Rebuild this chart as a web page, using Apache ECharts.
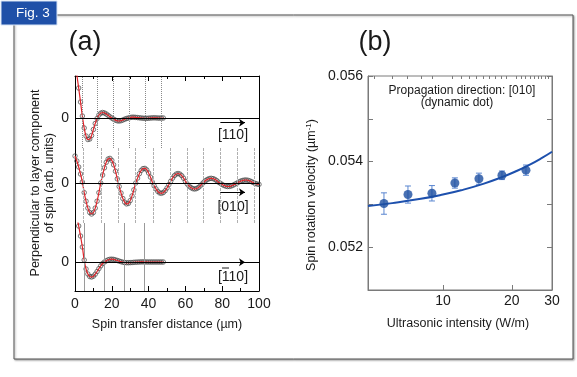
<!DOCTYPE html>
<html>
<head>
<meta charset="utf-8">
<script src="https://cdn.jsdelivr.net/npm/echarts@6/dist/echarts.min.js"></script>
<style>
  html, body { margin: 0; padding: 0; background: #fff; }
  #main { width: 577px; height: 377px; }
</style>
</head>
<body>
<div id="main"></div>
<script>
// (a) spin component vs distance (arb. units)
const distShort = [0,1,2,3,4,5,6,7,8,9,10,11,12,13,14,15,16,17,18,19,20,21,22,23,24,25,26,27,28,29,30,31,32,33,34,35,36,37,38,39,40,41,42,43,44,45,46,47,48]
const distLong = [0,1,2,3,4,5,6,7,8,9,10,11,12,13,14,15,16,17,18,19,20,21,22,23,24,25,26,27,28,29,30,31,32,33,34,35,36,37,38,39,40,41,42,43,44,45,46,47,48,49,50,51,52,53,54,55,56,57,58,59,60,61,62,63,64,65,66,67,68,69,70,71,72,73,74,75,76,77,78,79,80,81,82,83,84,85,86,87,88,89,90,91,92,93,94,95,96,97,98,99,100]

const spin110 = [5.6, 4.3, 3.0, 1.6, 0.2, -1.0, -1.8, -2.15, -2.1, -1.75,
  -1.15, -0.55, -0.05, 0.3, 0.48, 0.55, 0.5, 0.4, 0.27, 0.12,
  0.0, -0.12, -0.22, -0.28, -0.3, -0.27, -0.2, -0.12, -0.05, 0.0,
  0.05, 0.08, 0.08, 0.06, 0.04, 0.02, 0.0, -0.02, -0.03, -0.03,
  -0.02, 0.0, 0.01, 0.02, 0.01, 0.0, -0.01, 0.0, 0.0]

const spin010 = [2.7, 2.2, 1.6, 0.9, 0.1,
  -0.96, -1.82, -2.51, -2.95, -3.1, -2.95, -2.51, -1.82, -0.96, 0.0,
  0.8, 1.52, 2.07, 2.4, 2.46, 2.26, 1.82, 1.18, 0.41,
  -0.35, -1.0, -1.55, -1.92, -2.09, -2.04, -1.76, -1.29, -0.68, 0.0,
  0.49, 0.93, 1.26, 1.44, 1.46, 1.31, 1.0, 0.59, 0.1,
  -0.28, -0.59, -0.84, -0.99, -1.03, -0.95, -0.77, -0.5, -0.17,
  0.17, 0.48, 0.73, 0.89, 0.95, 0.89, 0.73, 0.48, 0.17,
  -0.1, -0.3, -0.46, -0.56, -0.6, -0.56, -0.46, -0.3, -0.1,
  0.08, 0.24, 0.36, 0.44, 0.47, 0.44, 0.36, 0.24, 0.08,
  -0.03, -0.15, -0.25, -0.32, -0.35, -0.34, -0.29, -0.21, -0.11, -0.02,
  0.1, 0.18, 0.25, 0.29, 0.3, 0.27, 0.21, 0.13, 0.04,
  -0.05, -0.1, -0.14]

const spin1b10 = [6.0, 4.6, 3.6, 2.6, 1.5, 0.2, -0.7, -1.2, -1.45, -1.5,
  -1.42, -1.22, -0.95, -0.66, -0.38, -0.15, 0.0, 0.12, 0.22, 0.27,
  0.28, 0.26, 0.21, 0.15, 0.09, 0.03, -0.02, -0.05, -0.07, -0.07,
  -0.06, -0.05, -0.03, -0.02, -0.01, 0.0, 0.01, 0.01, 0.01, 0.0,
  0.0, 0.0, 0.0, 0.0, 0.0, 0.0, 0.0, 0.0, 0.0]

// zero crossings marked by the vertical guide lines
const guides110 = [3.7, 12, 20.8, 29.6, 38.3, 47]
const guides010 = [4.3, 14, 23.5, 33, 42.3, 51.6, 60.8, 69.8, 79, 88.4, 97.6]
const guides1b10 = [5.1, 16, 26.8, 37.7]
const distTicks = [0, 20, 40, 60, 80, 100]

// (b) spin rotation velocity vs ultrasonic intensity
const intensity = [5.52, 7.03, 8.95, 11.28, 14.37, 18.12, 23.08]
const velocity = [0.05302, 0.05323, 0.05326, 0.0535, 0.0536, 0.05368, 0.0538]
const velocityErr = [0.00025, 0.0002, 0.00018, 0.00012, 0.00013, 0.0001, 0.00012]
const fitIntensity = [4.7, 6, 8, 10, 12, 15, 18, 21, 24, 27, 30]
const fitVelocity = [0.05296, 0.05303, 0.05313, 0.05323, 0.05333, 0.05348, 0.05363, 0.05378, 0.05393, 0.05408, 0.05423]
const intensityLabels = [10, 20, 30]
const intensityMinor = [5, 6, 7, 8, 9, 11, 12, 13, 14, 15, 16, 17, 18, 19, 21, 22, 23, 24, 25, 26, 27, 28, 29]
const velocityLabels = [0.052, 0.054, 0.056]

const font = 'Liberation Sans, Arial, sans-serif'
const ink = '#1a1a1a'
const zip = (xs, ys) => ys.map((y, i) => [xs[i], y])

const chart = echarts.init(document.getElementById('main'), null, { renderer: 'canvas' })

// three stacked strips of panel (a), then panel (b)
const strips = [
  { top: 76, height: 72, min: -3.0, max: 4.2, data: zip(distShort, spin110), guides: guides110, guideStyle: { color: '#8a8a8a', type: 'dotted' }, arrowY: -0.47 },
  { top: 148, height: 75, min: -4.0, max: 3.5, data: zip(distLong, spin010), guides: guides010, guideStyle: { color: '#b0b0b0', type: [3, 1] }, arrowY: -0.93 },
  { top: 223, height: 68, min: -2.9, max: 3.9, data: zip(distShort, spin1b10), guides: guides1b10, guideStyle: { color: '#9a9a9a', type: 'solid' }, arrowY: -0.02 }
]

const grid = strips.map(s => ({ left: 75, width: 184, top: s.top, height: s.height }))
grid.push({ left: 368, width: 184, top: 76, height: 214, show: true, borderColor: '#7a7a7a', borderWidth: 1 })

const xAxis = strips.map((s, i) => ({
  type: 'value', gridIndex: i, min: 0, max: 100, interval: 20,
  position: i === 2 ? 'bottom' : 'top',
  show: i !== 1,
  axisLine: { show: true, onZero: false, lineStyle: { color: '#000', width: 1 } },
  axisTick: { show: true, inside: true, length: 5, lineStyle: { color: '#000' } },
  minorTick: { show: true, splitNumber: 2, length: 3, lineStyle: { color: '#000' } },
  axisLabel: { show: i === 2, customValues: distTicks, margin: 6, fontSize: 14, color: ink, fontFamily: font },
  splitLine: { show: false }
}))
xAxis.push({
  type: 'log', gridIndex: 3, min: 4.7, max: 30, logBase: 10,
  axisLine: { show: true, onZero: false, lineStyle: { color: '#7a7a7a' } },
  axisTick: { show: true, inside: true, length: 5, customValues: intensityLabels, lineStyle: { color: '#7a7a7a' } },
  axisLabel: { customValues: intensityLabels, margin: 4, fontSize: 14, color: ink, fontFamily: font },
  splitLine: { show: false }
})
xAxis.push({
  type: 'log', gridIndex: 3, min: 4.7, max: 30, logBase: 10,
  axisLine: { show: false, onZero: false },
  axisTick: { show: true, inside: true, length: 3, customValues: intensityMinor, lineStyle: { color: '#7a7a7a' } },
  axisLabel: { show: false },
  splitLine: { show: false }
})

const yAxis = []
strips.forEach((s, i) => {
  yAxis.push({
    type: 'value', gridIndex: i, min: s.min, max: s.max, position: 'left',
    axisLine: { show: true, onZero: false, lineStyle: { color: '#000', width: 1 } },
    axisTick: { show: false },
    axisLabel: { customValues: [0], formatter: v => (v === 0 ? '0' : ''), margin: 6, fontSize: 14, color: ink, fontFamily: font },
    splitLine: { show: false }
  })
  yAxis.push({
    type: 'value', gridIndex: i, min: s.min, max: s.max, position: 'right',
    axisLine: { show: true, onZero: false, lineStyle: { color: '#000', width: 1 } },
    axisTick: { show: false }, axisLabel: { show: false }, splitLine: { show: false }
  })
})
yAxis.push({
  type: 'value', gridIndex: 3, min: 0.051, max: 0.056, interval: 0.001, position: 'left',
  axisLine: { show: true, onZero: false, lineStyle: { color: '#7a7a7a' } },
  axisTick: { show: true, inside: true, length: 5, lineStyle: { color: '#7a7a7a' } },
  axisLabel: { customValues: velocityLabels, formatter: v => v.toFixed(3), margin: 5, fontSize: 14, color: ink, fontFamily: font },
  splitLine: { show: false }
})
yAxis.push({
  type: 'value', gridIndex: 3, min: 0.051, max: 0.056, interval: 0.001, position: 'right',
  axisLine: { show: true, onZero: false, lineStyle: { color: '#7a7a7a' } },
  axisTick: { show: true, inside: true, length: 5, lineStyle: { color: '#7a7a7a' } },
  axisLabel: { show: false }, splitLine: { show: false }
})

const series = []
strips.forEach((s, i) => {
  series.push({
    type: 'scatter', xAxisIndex: i, yAxisIndex: i * 2, data: s.data, silent: true, z: 2,
    symbol: 'circle', symbolSize: 4.5,
    itemStyle: { color: 'rgba(255,255,255,0)', borderColor: '#444', borderWidth: 0.9 },
    markLine: {
      silent: true, symbol: ['none', 'none'], label: { show: false },
      lineStyle: Object.assign({ width: 1 }, s.guideStyle),
      data: s.guides.map(g => ({ xAxis: g })).concat([{ yAxis: 0, lineStyle: { color: '#000', type: 'solid', width: 1 } }])
    }
  })
  series.push({
    type: 'line', xAxisIndex: i, yAxisIndex: i * 2, data: s.data, silent: true, z: 3,
    smooth: true, showSymbol: false,
    lineStyle: { color: '#e0242a', width: 1.2 },
    markLine: {
      silent: true, symbol: ['none', 'arrow'], symbolSize: 6, label: { show: false },
      lineStyle: { color: '#000', type: 'solid', width: 1 },
      data: [[{ coord: [79, s.arrowY] }, { coord: [92.4, s.arrowY] }]]
    }
  })
})

series.push({
  type: 'custom', xAxisIndex: 3, yAxisIndex: 6, silent: true, z: 3,
  data: velocity.map((v, i) => [intensity[i], v - velocityErr[i], v + velocityErr[i]]),
  renderItem: (params, api) => {
    const lo = api.coord([api.value(0), api.value(1)])
    const hi = api.coord([api.value(0), api.value(2)])
    const style = { stroke: '#5a86d0', lineWidth: 1 }
    return {
      type: 'group',
      children: [
        { type: 'line', shape: { x1: lo[0], y1: lo[1], x2: hi[0], y2: hi[1] }, style },
        { type: 'line', shape: { x1: lo[0] - 3, y1: lo[1], x2: lo[0] + 3, y2: lo[1] }, style },
        { type: 'line', shape: { x1: hi[0] - 3, y1: hi[1], x2: hi[0] + 3, y2: hi[1] }, style }
      ]
    }
  }
})
series.push({
  type: 'line', xAxisIndex: 3, yAxisIndex: 6, data: zip(fitIntensity, fitVelocity), silent: true, z: 4,
  smooth: true, showSymbol: false,
  lineStyle: { color: '#1d50ad', width: 2 }
})
series.push({
  type: 'scatter', xAxisIndex: 3, yAxisIndex: 6, data: zip(intensity, velocity), silent: true, z: 5,
  symbol: 'circle', symbolSize: 9,
  itemStyle: { color: '#1c4da0' }
})

const txt = (x, y, text, size, extra) => ({
  type: 'text', x, y, silent: true,
  style: Object.assign({ text, fill: ink, font: size + 'px ' + font, align: 'center', verticalAlign: 'middle' }, extra || {})
})

const graphic = [
  // outer frame
  { type: 'rect', z: -10, silent: true, shape: { x: 14, y: 15, width: 559, height: 344 },
    style: { fill: '#fff', stroke: '#555', lineWidth: 1, shadowBlur: 2, shadowOffsetX: 1, shadowOffsetY: 1, shadowColor: 'rgba(0,0,0,0.35)' } },
  // figure tab
  { type: 'rect', z: 10, silent: true, shape: { x: 1, y: 1, width: 56, height: 24 },
    style: { fill: '#1f50a8', stroke: '#d7e4f6', lineWidth: 1 } },
  Object.assign(txt(33, 13, 'Fig. 3', 13.5, { fill: '#fff' }), { z: 11 }),
  txt(85, 43, '(a)', 27),
  txt(375, 43, '(b)', 27),
  Object.assign(txt(43, 183, 'Perpendicular to layer component\nof spin (arb. units)', 12.5, { lineHeight: 14 }), { rotation: Math.PI / 2 }),
  txt(167, 325, 'Spin transfer distance (\u00b5m)', 12.5),
  txt(233, 135, '[110]', 14),
  txt(233, 207, '[010]', 14),
  txt(233, 277, '[110]', 14),
  // bar over the first digit of [-110]
  { type: 'line', silent: true, shape: { x1: 222, y1: 268, x2: 229, y2: 268 }, style: { stroke: ink, lineWidth: 1 } },
  txt(462, 91, 'Propagation direction: [010]', 12),
  txt(457, 103, '(dynamic dot)', 12),
  txt(458, 324, 'Ultrasonic intensity (W/m)', 12.5),
  {
    type: 'text', x: 312, y: 195, rotation: Math.PI / 2, silent: true,
    style: {
      text: '{a|Spin rotation velocity (\u00b5m}{s|-1}{a|)}', align: 'center', verticalAlign: 'middle',
      rich: {
        a: { fontSize: 12.5, fontFamily: font, fill: ink, color: ink },
        s: { fontSize: 8, fontFamily: font, fill: ink, color: ink, verticalAlign: 'top', padding: [0, 0, 6, 0] }
      }
    }
  }
]

chart.setOption({
  animation: false,
  backgroundColor: '#fff',
  textStyle: { fontFamily: font },
  grid, xAxis, yAxis, series, graphic
})
</script>
</body>
</html>
